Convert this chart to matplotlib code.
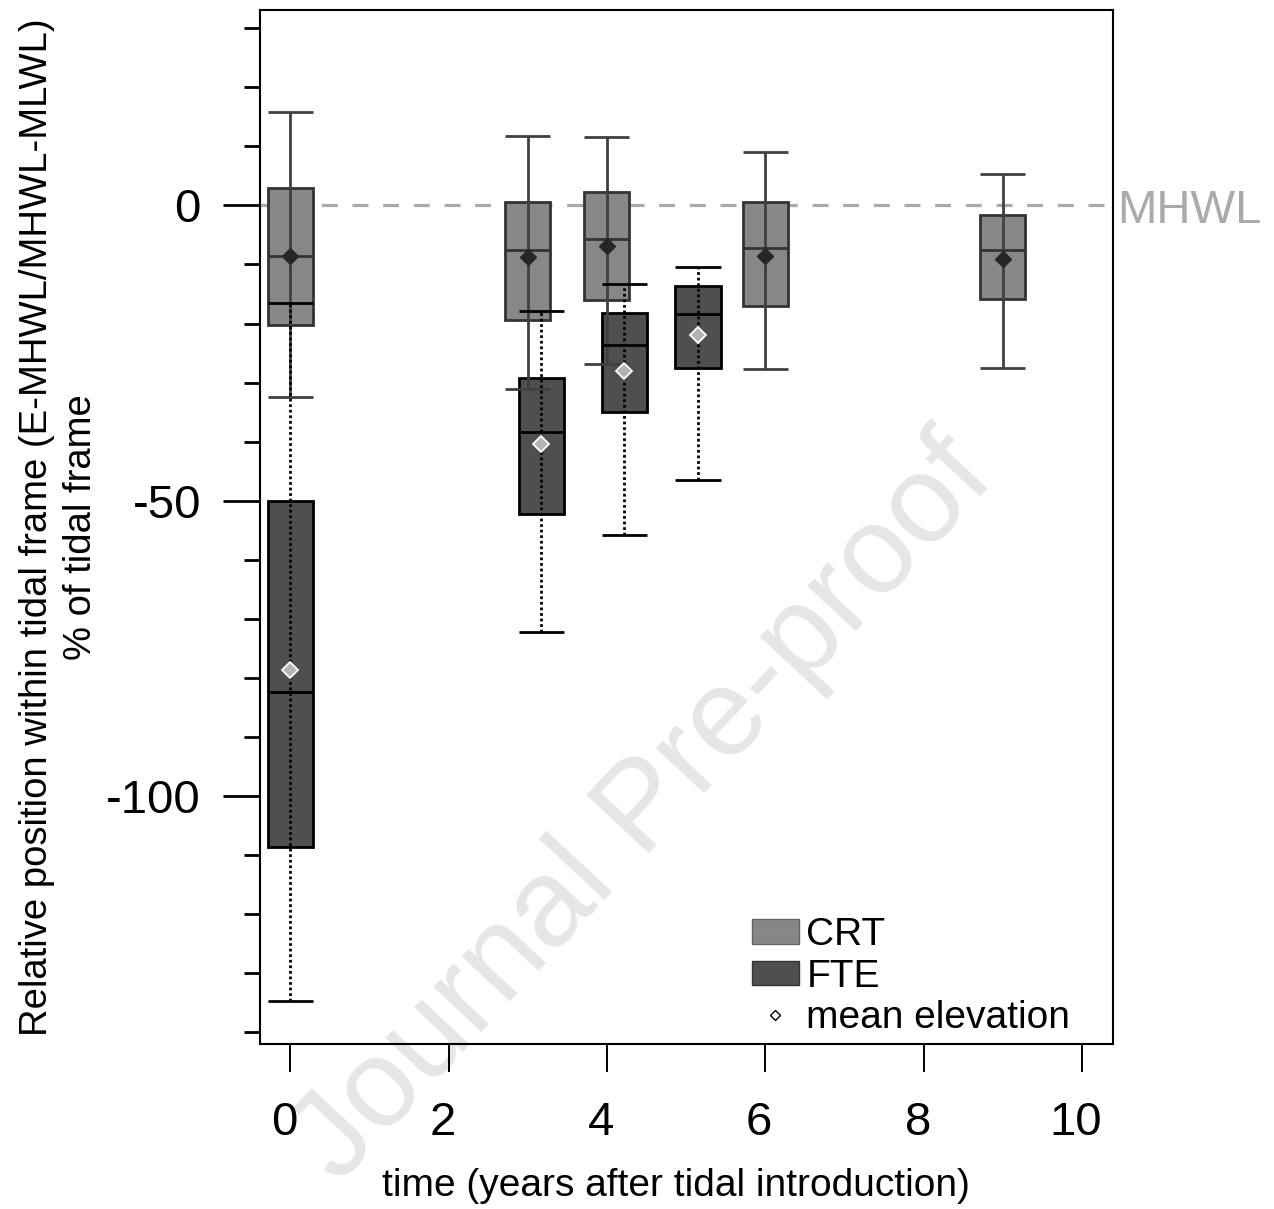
import matplotlib
matplotlib.use("Agg")
import matplotlib.pyplot as plt
import matplotlib.transforms as mtransforms
from matplotlib.patches import Patch
from matplotlib.lines import Line2D

plt.rcParams['font.family'] = ['Liberation Sans', 'DejaVu Sans']
plt.rcParams['axes.unicode_minus'] = False

# CRT: box statistics per sampling year
crt_time = [0, 3, 4, 6, 9]
crt_whislo = [-32.4, -31.1, -26.8, -27.7, -27.6]
crt_q1 = [-20.2, -19.4, -16.0, -17.0, -15.9]
crt_med = [-8.6, -7.5, -5.7, -7.2, -7.6]
crt_q3 = [2.9, 0.6, 2.2, 0.5, -1.6]
crt_whishi = [15.9, 11.8, 11.6, 9.0, 5.3]
crt_mean = [-8.6, -8.8, -6.9, -8.6, -9.1]

# FTE: box statistics per sampling year
fte_time = [0, 3.17, 4.22, 5.15]
fte_whislo = [-134.8, -72.3, -55.9, -46.5]
fte_q1 = [-108.6, -52.3, -35.0, -27.6]
fte_med = [-82.5, -38.3, -23.6, -18.4]
fte_q3 = [-50.0, -29.2, -18.3, -13.6]
fte_whishi = [-16.5, -17.9, -13.3, -10.4]
fte_mean = [-78.7, -40.4, -28.1, -22.0]

xticks = [0, 2, 4, 6, 8, 10]
yticks = [0, -50, -100]
yminor = [30, 20, 10, -10, -20, -30, -40, -60, -70, -80, -90,
          -110, -120, -130, -140]

crt_col = "#878787"
fte_col = "#4f4f4f"
w = 0.57

fig = plt.figure(figsize=(12.74, 12.09), dpi=100)
ax = fig.add_axes([0.2041, 0.1362, 0.6698, 0.8555])
ax.set_facecolor("none")

# linea MHWL
ax.axhline(0, color="#aaaaaa", lw=2.3, dashes=(5, 4.6), zorder=1)
ax.text(1.005, -2.9, "MHWL", transform=ax.get_yaxis_transform(),
        color="#aaaaaa", fontsize=34, va="baseline", ha="left", clip_on=False)

# cajas
ax.bar(crt_time, [a - b for a, b in zip(crt_q3, crt_q1)], bottom=crt_q1, width=w,
       color=crt_col, edgecolor="#333333", linewidth=2, zorder=2)
ax.bar(fte_time, [a - b for a, b in zip(fte_q3, fte_q1)], bottom=fte_q1, width=w,
       color=fte_col, edgecolor="black", linewidth=2, zorder=2)

# bigotes
ax.vlines(crt_time, crt_whislo, crt_whishi, color="#404040", lw=2, zorder=3)
ax.hlines(crt_whislo + crt_whishi, [t - w / 2 for t in crt_time] * 2,
          [t + w / 2 for t in crt_time] * 2, color="#404040", lw=2, zorder=3)
ax.vlines(fte_time, fte_whislo, fte_whishi, color="black", lw=2,
          linestyles=(0, (1, 1)), zorder=3)
ax.hlines(fte_whislo + fte_whishi, [t - w / 2 for t in fte_time] * 2,
          [t + w / 2 for t in fte_time] * 2, color="black", lw=2, zorder=3)

# medianas y medias
ax.hlines(crt_med, [t - w / 2 for t in crt_time], [t + w / 2 for t in crt_time],
          color="#333333", lw=2, zorder=4)
ax.hlines(fte_med, [t - w / 2 for t in fte_time], [t + w / 2 for t in fte_time],
          color="black", lw=2, zorder=4)
ax.plot(crt_time, crt_mean, ls="none", marker="D", ms=8, mfc="#262626",
        mec="#262626", zorder=5)
ax.plot(fte_time, fte_mean, ls="none", marker="D", ms=8, mfc="#b3b3b3",
        mec="white", mew=1.3, zorder=5)

ax.set_xlim(-0.38, 10.395)
ax.set_ylim(-142.1, 33.1)
ax.set_xticks(xticks)
ax.set_yticks(yticks)
ax.set_yticks(yminor, minor=True)
ax.tick_params(axis="x", length=20, width=1.4, pad=21, labelsize=34)
ax.tick_params(axis="y", which="major", length=26.5, width=2, pad=16, labelsize=34)
ax.tick_params(axis="y", which="minor", length=11.5, width=2)
for s in ax.spines.values():
    s.set_linewidth(1.5)

# las etiquetas del eje x van un poco a la izquierda
shift = mtransforms.ScaledTranslation(-6 / 100, 0, fig.dpi_scale_trans)
for lab in ax.get_xticklabels():
    lab.set_transform(lab.get_transform() + shift)

ax.set_xlabel("time (years after tidal introduction)", fontsize=28, labelpad=16)
ax.xaxis.label.set_x(0.4875)
ax.set_ylabel("Relative position within tidal frame (E-MHWL/MHWL-MLWL)\n% of tidal frame",
              fontsize=27.5, labelpad=5, linespacing=1.3)

handles = [
    Patch(facecolor=crt_col, edgecolor="#666666", linewidth=1),
    Patch(facecolor=fte_col, edgecolor="#333333", linewidth=1),
    Line2D([], [], ls="none", marker="D", ms=5, mfc="white", mec="black", mew=1),
]
ax.legend(handles, ["CRT", "FTE", "mean elevation"], loc="lower left",
          bbox_to_anchor=(0.576, 0.008), frameon=False, fontsize=28,
          borderpad=0, borderaxespad=0, handlelength=1.21, handleheight=0.59,
          handletextpad=0.2, labelspacing=0.14)

# marca de agua
fig.text(645 / 1274, 1 - 810 / 1209, "Journal Pre-proof", fontsize=90,
         color="#e6e6e6", rotation=47, ha="center", va="center",
         rotation_mode="anchor", zorder=-1)

fig.savefig("out.png", dpi=100)
